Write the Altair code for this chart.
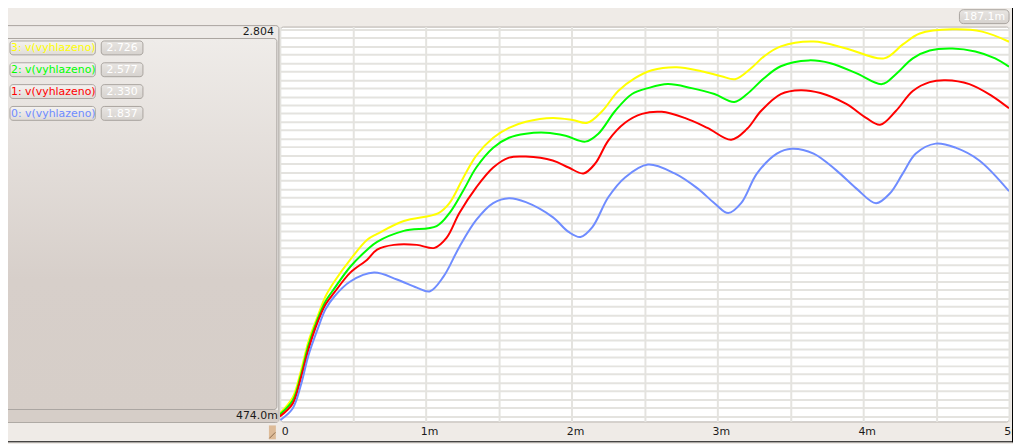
import altair as alt
import pandas as pd

# ---------------- data ----------------
t_s0 = [0, 0.088, 0.143, 0.197, 0.259, 0.313, 0.374, 0.483, 0.646, 0.803, 0.939, 1.027, 1.122, 1.231, 1.347,
        1.463, 1.571, 1.687, 1.871, 1.980, 2.061, 2.143, 2.252, 2.367, 2.524, 2.707, 2.864, 2.980, 3.075,
        3.163, 3.272, 3.408, 3.510, 3.660, 3.816, 3.952, 4.088, 4.184, 4.272, 4.361, 4.497, 4.633, 4.796, 5.0]
v_s0 = [0.474, 0.545, 0.680, 0.863, 1.017, 1.135, 1.211, 1.300, 1.353, 1.312, 1.264, 1.241, 1.329, 1.506, 1.666,
        1.766, 1.795, 1.772, 1.683, 1.595, 1.565, 1.624, 1.801, 1.919, 1.996, 1.943, 1.854, 1.766, 1.707,
        1.766, 1.943, 2.061, 2.090, 2.061, 1.961, 1.854, 1.766, 1.825, 1.943, 2.061, 2.120, 2.096, 2.020, 1.837]

t_s1 = [0, 0.088, 0.143, 0.197, 0.259, 0.313, 0.374, 0.483, 0.599, 0.667, 0.782, 0.939, 1.061, 1.143, 1.231,
        1.347, 1.463, 1.571, 1.687, 1.871, 1.980, 2.082, 2.163, 2.252, 2.367, 2.483, 2.619, 2.776, 2.932,
        3.095, 3.204, 3.299, 3.435, 3.571, 3.707, 3.884, 4.020, 4.116, 4.224, 4.340, 4.456, 4.565, 4.728,
        4.884, 5.0]
v_s1 = [0.498, 0.574, 0.722, 0.899, 1.058, 1.164, 1.235, 1.353, 1.430, 1.490, 1.518, 1.518, 1.500, 1.559, 1.707,
        1.860, 1.978, 2.037, 2.043, 2.020, 1.978, 1.943, 2.002, 2.138, 2.244, 2.297, 2.309, 2.273, 2.214,
        2.143, 2.208, 2.314, 2.415, 2.438, 2.421, 2.356, 2.273, 2.232, 2.314, 2.433, 2.486, 2.497, 2.474,
        2.403, 2.330]

t_s2 = [0, 0.088, 0.143, 0.197, 0.259, 0.313, 0.374, 0.483, 0.599, 0.667, 0.850, 1.075, 1.163, 1.259, 1.347,
        1.463, 1.571, 1.687, 1.823, 1.959, 2.095, 2.184, 2.299, 2.415, 2.524, 2.660, 2.823, 2.980, 3.116,
        3.204, 3.320, 3.435, 3.626, 3.776, 3.952, 4.129, 4.224, 4.340, 4.456, 4.612, 4.769, 4.905, 5.0]
v_s2 = [0.509, 0.592, 0.739, 0.922, 1.076, 1.182, 1.259, 1.388, 1.489, 1.536, 1.601, 1.630, 1.707, 1.843, 1.978,
        2.096, 2.155, 2.179, 2.185, 2.167, 2.132, 2.179, 2.314, 2.415, 2.450, 2.474, 2.450, 2.415, 2.368,
        2.415, 2.509, 2.580, 2.615, 2.598, 2.539, 2.474, 2.533, 2.627, 2.674, 2.686, 2.668, 2.627, 2.577]

t_s3 = [0, 0.088, 0.143, 0.197, 0.259, 0.313, 0.374, 0.483, 0.599, 0.667, 0.850, 1.088, 1.163, 1.259, 1.347,
        1.463, 1.571, 1.687, 1.871, 2.007, 2.109, 2.211, 2.320, 2.435, 2.551, 2.721, 2.891, 3.027, 3.122,
        3.231, 3.320, 3.435, 3.660, 3.884, 4.143, 4.272, 4.388, 4.612, 4.816, 5.0]
v_s3 = [0.515, 0.610, 0.763, 0.946, 1.093, 1.211, 1.300, 1.430, 1.548, 1.583, 1.660, 1.707, 1.766, 1.919, 2.049,
        2.155, 2.214, 2.250, 2.273, 2.261, 2.244, 2.314, 2.433, 2.509, 2.556, 2.574, 2.550, 2.521, 2.503,
        2.568, 2.639, 2.698, 2.727, 2.686, 2.627, 2.710, 2.775, 2.800, 2.786, 2.726]

series_names = ["0: v(vyhlazeno)", "1: v(vyhlazeno)", "2: v(vyhlazeno)", "3: v(vyhlazeno)"]
series_colors = ["#6F8CFF", "#FF0000", "#00FF00", "#FFFF00"]
cursor_values = ["1.837", "2.330", "2.577", "2.726"]

y_max_label = "2.804"
y_min_label = "474.0m"
marker_label = "187.1m"
time_ticks = [0, 1, 2, 3, 4, 5]
time_labels = ["0", "1m", "2m", "3m", "4m", "5m"]

# ---------------- build tables ----------------
all_t = [t_s0, t_s1, t_s2, t_s3]
all_v = [v_s0, v_s1, v_s2, v_s3]
rows = []
for name, ts, vs in zip(series_names, all_t, all_v):
    for t, v in zip(ts, vs):
        rows.append({"series": name, "t": t, "v": v})
df = pd.DataFrame(rows)
ticks_df = pd.DataFrame({"t": time_ticks, "label": time_labels})
one = pd.DataFrame({"k": [0]})

W, H = 735, 398
FONT = "DejaVu Sans"
BG = "#EFEBE7"
GRID = "#E4E3DF"
BORDER = "#A9A49F"

x_scale = alt.Scale(domain=[0, 5], nice=False, zero=False)
y_scale = alt.Scale(domain=[0.468, 2.816], nice=False, zero=False)
x_axis = alt.Axis(values=[0.5 * i for i in range(11)], grid=True, gridColor=GRID, gridWidth=2,
                  labels=False, ticks=False, domain=False, title=None)
y_axis = alt.Axis(values=[round(0.5 + 0.05 * i, 2) for i in range(47)], grid=True, gridColor=GRID,
                  gridWidth=2, labels=False, ticks=False, domain=False, title=None)


def X(field="t:Q"):
    return alt.X(field, scale=x_scale, axis=x_axis)


def Y(field="v:Q"):
    return alt.Y(field, scale=y_scale, axis=y_axis)


light_grad = alt.LinearGradient(gradient="linear", x1=0, x2=0, y1=0, y2=1,
                                stops=[alt.GradientStop(offset=0, color="#F5F3F1"),
                                       alt.GradientStop(offset=1, color="#E0DCD8")])
value_grad = alt.LinearGradient(gradient="linear", x1=0, x2=0, y1=0, y2=1,
                                stops=[alt.GradientStop(offset=0, color="#E8E5E2"),
                                       alt.GradientStop(offset=1, color="#D6D2CE")])
panel_grad = alt.LinearGradient(gradient="linear", x1=0, x2=0, y1=0, y2=1,
                                stops=[alt.GradientStop(offset=0, color="#EFECE9"),
                                       alt.GradientStop(offset=0.65, color="#D7CFCA"),
                                       alt.GradientStop(offset=1, color="#D6CEC8")])

layers = []

# left side panel (chrome)
layers.append(alt.Chart(one).mark_rect(fill="#EEEBE8", stroke=BORDER, strokeWidth=1, cornerRadius=3).encode(
    x=alt.value(-280), x2=alt.value(-1), y=alt.value(-1), y2=alt.value(399)))
layers.append(alt.Chart(one).mark_rect(fill=panel_grad, stroke=BORDER, strokeWidth=1, cornerRadius=3).encode(
    x=alt.value(-279), x2=alt.value(-3), y=alt.value(12), y2=alt.value(386)))
layers.append(alt.Chart(one).mark_rect(fill="#D6CEC8").encode(
    x=alt.value(-279.5), x2=alt.value(-1.5), y=alt.value(386.5), y2=alt.value(398.5)))

# top-right marker button
layers.append(alt.Chart(one).mark_rect(fill=value_grad, stroke=BORDER, strokeWidth=1, cornerRadius=4).encode(
    x=alt.value(685), x2=alt.value(735), y=alt.value(-17), y2=alt.value(-3)))
layers.append(alt.Chart(one).mark_text(text=marker_label, font=FONT, fontSize=11, color="#FFFFFF",
                                       align="center", baseline="middle").encode(
    x=alt.value(710), y=alt.value(-9.5)))

# bottom-left tan marker
layers.append(alt.Chart(one).mark_rect(fill="#DDBB98").encode(
    x=alt.value(-11), x2=alt.value(-4), y=alt.value(402), y2=alt.value(416)))
layers.append(alt.Chart(one).mark_rule(color="#8C6C4C", strokeWidth=1).encode(
    x=alt.value(-10.5), x2=alt.value(-4.5), y=alt.value(415), y2=alt.value(409)))

# min / max labels
layers.append(alt.Chart(one).mark_text(text=y_max_label, font=FONT, fontSize=11, color="#1A1A1A",
                                       align="right", baseline="middle").encode(
    x=alt.value(-6), y=alt.value(5)))
layers.append(alt.Chart(one).mark_text(text=y_min_label, font=FONT, fontSize=11, color="#1A1A1A",
                                       align="right", baseline="middle").encode(
    x=alt.value(-2), y=alt.value(393)))

# legend buttons (top to bottom: 3, 2, 1, 0)
for row, idx in enumerate([3, 2, 1, 0]):
    cy = 21.5 + 22 * row
    layers.append(alt.Chart(one).mark_rect(fill=light_grad, stroke=BORDER, strokeWidth=1, cornerRadius=3).encode(
        x=alt.value(-272), x2=alt.value(-186), y=alt.value(cy - 7), y2=alt.value(cy + 7)))
    layers.append(alt.Chart(one).mark_text(text=series_names[idx], font=FONT, fontSize=11,
                                           color=series_colors[idx], align="left", baseline="middle").encode(
        x=alt.value(-271), y=alt.value(cy + 0.5)))
    layers.append(alt.Chart(one).mark_rect(fill=value_grad, stroke=BORDER, strokeWidth=1, cornerRadius=3).encode(
        x=alt.value(-180), x2=alt.value(-138), y=alt.value(cy - 7), y2=alt.value(cy + 7)))
    layers.append(alt.Chart(one).mark_text(text=cursor_values[idx], font=FONT, fontSize=11,
                                           color="#FFFFFF", align="center", baseline="middle").encode(
        x=alt.value(-159), y=alt.value(cy + 0.5)))

# waveform lines (yellow first, blue on top)
for idx in [3, 2, 1, 0]:
    layers.append(alt.Chart(df).transform_filter(alt.datum.series == series_names[idx]).mark_line(
        strokeWidth=2, interpolate="catmull-rom", clip=True, color=series_colors[idx]).encode(
        x=X(), y=Y()))

# time axis labels
layers.append(alt.Chart(ticks_df).transform_filter(alt.datum.t == 0).mark_text(
    font=FONT, fontSize=11, color="#1A1A1A", align="left", baseline="middle", dx=2).encode(
    x=X(), y=alt.value(409), text="label:N"))
layers.append(alt.Chart(ticks_df).transform_filter(alt.datum.t > 0).mark_text(
    font=FONT, fontSize=11, color="#1A1A1A", align="center", baseline="middle", dx=4).encode(
    x=X(), y=alt.value(409), text="label:N"))

# window frame (bottom / right)
layers.append(alt.Chart(one).mark_rule(color="#000000", strokeWidth=1).encode(
    x=alt.value(-290), x2=alt.value(740), y=alt.value(418.5)))
layers.append(alt.Chart(one).mark_rule(color="#000000", strokeWidth=1).encode(
    x=alt.value(738.5), y=alt.value(-30), y2=alt.value(419)))

chart = alt.layer(*layers).properties(
    width=W, height=H,
    autosize=alt.AutoSizeParams(type="none"),
    padding={"left": 274, "top": 17, "right": 4, "bottom": 21},
    background=BG,
).configure_view(fill="#FFFFFF", stroke="#B3AEA8", strokeWidth=1, cornerRadius=3)

chart.save("out.html", embed_options={"renderer": "svg", "actions": False})
